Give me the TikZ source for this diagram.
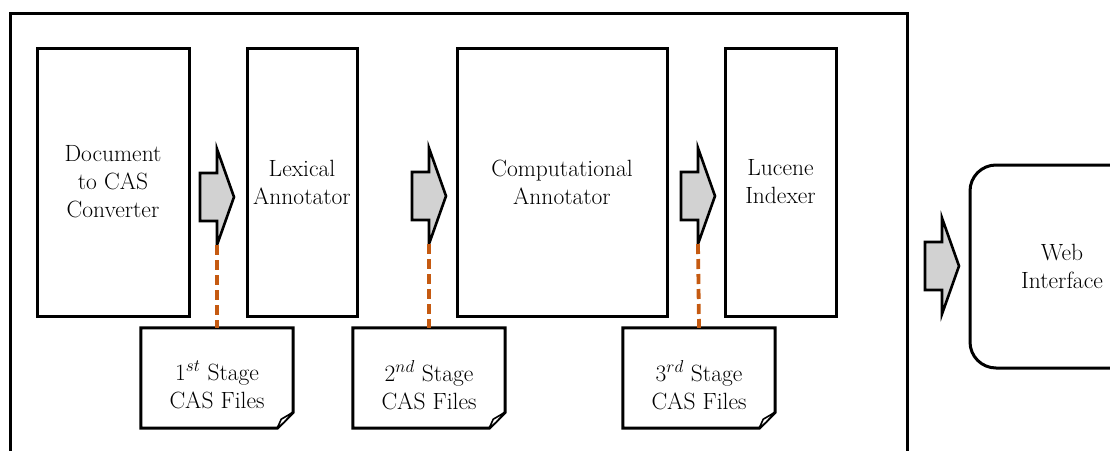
\documentclass[tikz,border=0pt]{standalone}
\usepackage{fontspec}
\definecolor{dashorange}{RGB}{197,90,17}
\definecolor{arrowgray}{RGB}{210,210,210}
\tikzset{
  txt/.style={font=\fontsize{23.5}{28}\selectfont, align=center},
  stagebox/.style={draw, line width=3pt, rectangle, inner sep=0pt, txt, minimum height=268pt},
  webbox/.style={draw, line width=3pt, rectangle, rounded corners=26pt, txt, minimum width=184pt, minimum height=203pt},
  docbox/.style={rectangle, draw=none, minimum width=152pt, minimum height=100pt},
  docline/.style={line width=3pt, line join=miter},
  doctext/.style={txt},
  arrowstyle/.style={draw, line width=2.6pt, fill=arrowgray, line join=miter},
  link/.style={draw=dashorange, line width=3.8pt, dash pattern=on 10pt off 5pt},
  frame/.style={line width=3pt},
  blockarrow/.pic={
    \draw[arrowstyle] (-17,-24) -- (0,-24) -- (0,-48) -- (17,0) -- (0,48) -- (0,24) -- (-17,24) -- cycle;
    \coordinate (-bot) at (0,48);
  }
}
\newcommand{\docoutline}[1]{%
  \draw[docline] (#1.north west) -- (#1.north east) -- ([yshift=16pt]#1.south east) -- ([xshift=-16pt]#1.south east) -- (#1.south west) -- cycle;
  \filldraw[fill=white, line width=1.6pt, line join=round] ([xshift=-16pt]#1.south east) -- ([xshift=-12pt,yshift=9pt]#1.south east) -- ([yshift=16pt]#1.south east) -- ([xshift=-9pt,yshift=6pt]#1.south east) -- cycle;
}
\begin{document}
\begin{tikzpicture}[x=1pt,y=-1pt]
\useasboundingbox (0,0) rectangle (1110,450);
\clip (0,0) rectangle (1110,450);
% outer frame (open at the bottom of the picture)
\draw[frame] (10,13) rectangle (907,480);
% stage boxes
\node[stagebox, minimum width=152pt] (conv) at (113,182) {Document\\to CAS\\Converter};
\node[stagebox, minimum width=110pt] (lex) at (302,182) {Lexical\\Annotator};
\node[stagebox, minimum width=210pt] (comp) at (562,182) {Computational\\Annotator};
\node[stagebox, minimum width=111pt] (luc) at (780.5,182) {Lucene\\Indexer};
\node[webbox] (web) at (1062,266.5) {Web\\Interface};
% block arrows
\pic (a1) at (217,197) {blockarrow};
\pic (a2) at (429,196) {blockarrow};
\pic (a3) at (698,196) {blockarrow};
\pic (a4) at (942,266) {blockarrow};
% stage files
\node[docbox] (f1) at (217,378) {};
\node[docbox] (f2) at (429,378) {};
\node[docbox] (f3) at (699,378) {};
\docoutline{f1}
\docoutline{f2}
\docoutline{f3}
\node[doctext] (t1) at ([yshift=-7pt]f1.center) {1$^{st}$ Stage\\CAS Files};
\node[doctext] (t2) at ([yshift=-7pt]f2.center) {2$^{nd}$ Stage\\CAS Files};
\node[doctext] (t3) at ([yshift=-7pt]f3.center) {3$^{rd}$ Stage\\CAS Files};
% dashed links
\draw[link] (a1-bot) -- (f1.north);
\draw[link] (a2-bot) -- (f2.north);
\draw[link] (a3-bot) -- (f3.north);
\end{tikzpicture}
\end{document}
